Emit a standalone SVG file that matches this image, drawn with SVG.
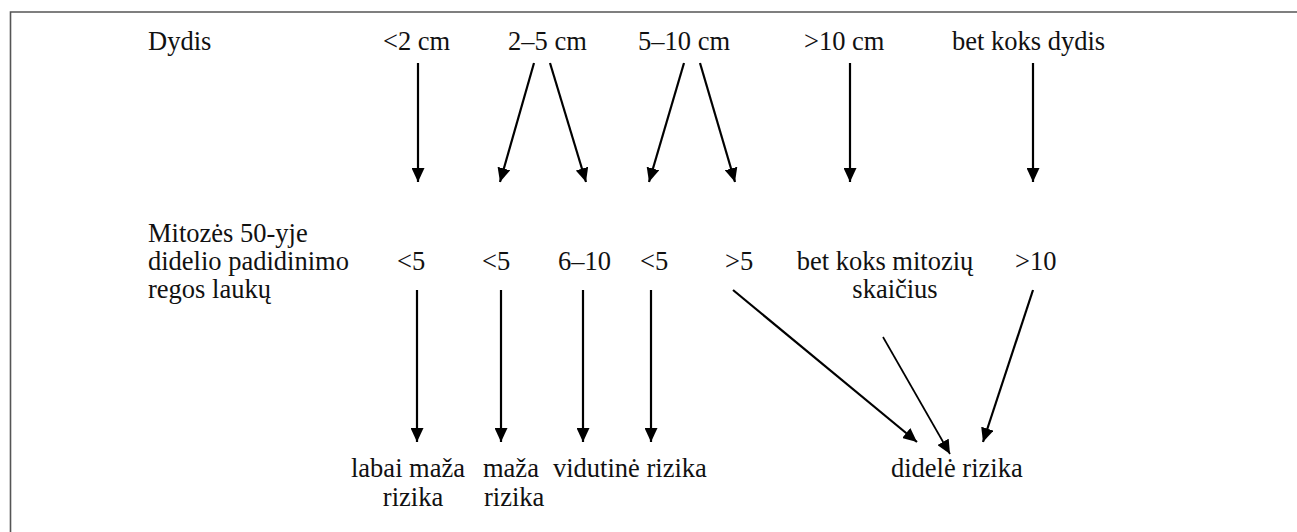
<svg xmlns="http://www.w3.org/2000/svg" width="1297" height="532" viewBox="0 0 1297 532">
<style>
text{font-family:"Liberation Serif","Times New Roman",serif;font-size:26.5px;fill:#111}
.c{stroke:#000;stroke-width:2.2;fill:none;marker-end:url(#ah)}
.thin{stroke-width:1.7}
.frame{stroke:#555;stroke-width:1.6;fill:none}
</style>
<defs>
<marker id="ah" markerUnits="userSpaceOnUse" markerWidth="15" markerHeight="13" refX="14" refY="6.5" orient="auto" viewBox="0 0 15 13">
<path d="M0,0 L14,6.5 L0,13 z" fill="#000"/>
</marker>
</defs>
<rect width="1297" height="532" fill="#fff"/>
<path class="frame" d="M10.5,533 L10.5,12 L1298,12"/>
<g id="row1-label"><text x="148" y="50">Dydis</text></g>
<g id="s1"><text x="383" y="50">&lt;2 cm</text></g>
<g id="s2"><text x="508" y="50">2–5 cm</text></g>
<g id="s3"><text x="638" y="50">5–10 cm</text></g>
<g id="s4"><text x="804" y="50">&gt;10 cm</text></g>
<g id="s5"><text x="952" y="50">bet koks dydis</text></g>
<g id="row2-label"><text x="148" y="242">Mitozės 50-yje</text><text x="148" y="270">didelio padidinimo</text><text x="148" y="298">regos laukų</text></g>
<g id="m1"><text x="397" y="270">&lt;5</text></g>
<g id="m2"><text x="482" y="270">&lt;5</text></g>
<g id="m3"><text x="558" y="270">6–10</text></g>
<g id="m4"><text x="640" y="270">&lt;5</text></g>
<g id="m5"><text x="725" y="270">&gt;5</text></g>
<g id="m6"><text x="885" y="270" text-anchor="middle">bet koks mitozių</text><text x="895" y="298" text-anchor="middle">skaičius</text></g>
<g id="m7"><text x="1015" y="270">&gt;10</text></g>
<g id="r1"><text x="351" y="477">labai maža</text><text x="413" y="506" text-anchor="middle">rizika</text></g>
<g id="r2"><text x="483" y="477">maža</text><text x="484" y="506">rizika</text></g>
<g id="r3"><text x="553" y="477">vidutinė rizika</text></g>
<g id="r4"><text x="891" y="477">didelė rizika</text></g>
<g id="connectors">
<line class="c" x1="418" y1="63" x2="418" y2="182"/>
<line class="c" x1="534" y1="63" x2="500" y2="182"/>
<line class="c" x1="550" y1="63" x2="586" y2="182"/>
<line class="c" x1="684" y1="63" x2="649" y2="182"/>
<line class="c" x1="700" y1="63" x2="735" y2="182"/>
<line class="c" x1="850" y1="63" x2="850" y2="182"/>
<line class="c" x1="1033" y1="63" x2="1033" y2="182"/>
<line class="c" x1="417" y1="290" x2="417" y2="442"/>
<line class="c" x1="501" y1="290" x2="501" y2="442"/>
<line class="c" x1="583" y1="290" x2="583" y2="442"/>
<line class="c" x1="651" y1="290" x2="651" y2="442"/>
<line class="c" x1="733" y1="290" x2="917" y2="442"/>
<line class="c thin" x1="883" y1="337" x2="950" y2="454"/>
<line class="c" x1="1033" y1="290" x2="983" y2="442"/>
</g>
</svg>
